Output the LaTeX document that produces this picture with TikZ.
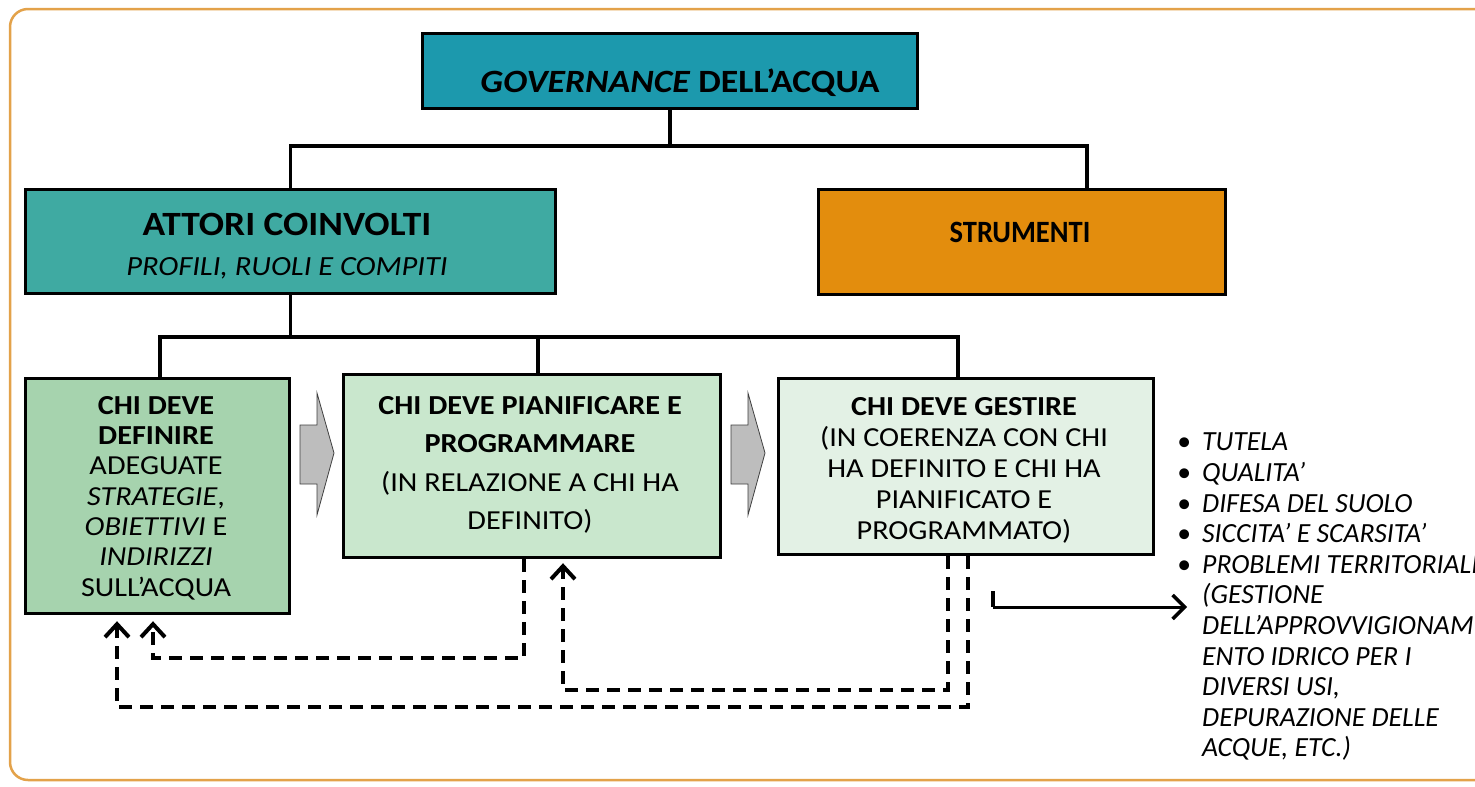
\documentclass[tikz,border=0pt]{standalone}
\usepackage{fontspec}
\setmainfont{Carlito}
% slightly widened and slightly narrowed cuts of the same family
\newfontfamily\widefont{Carlito}[FakeStretch=1.1]
\newfontfamily\narrowfont{Carlito}[FakeStretch=0.92]
\usetikzlibrary{arrows.meta,calc}
\definecolor{govfill}{HTML}{1C99AD}
\definecolor{attfill}{HTML}{3FAAA2}
\definecolor{strfill}{HTML}{E38D0D}
\definecolor{defill}{HTML}{A6D3AE}
\definecolor{plfill}{HTML}{C9E7CD}
\definecolor{gefill}{HTML}{E3F1E5}
\definecolor{stepgray}{HTML}{BDBDBD}
\definecolor{framecol}{HTML}{E3A24A}
\begin{document}
\begin{tikzpicture}[x=1pt,y=-1pt,
  box/.style={draw=black, line width=3.2pt, anchor=north west, inner sep=0pt},
  link/.style={line width=3.4pt},
  feedback/.style={line width=4pt, dash pattern=on 13pt off 8pt,
    -{Straight Barb[length=13pt,width=24pt,line width=4pt]}},
  label/.style={anchor=base, inner sep=0pt},
  boxtext/.style={anchor=north, inner sep=0pt, align=center},
  blockarrow/.style={fill=stepgray, draw=black!75, line width=0.8pt, line join=miter}]

\useasboundingbox (0,0) rectangle (1475,787);
\fill[white] (0,0) rectangle (1475,787);

% outer frame
\draw[framecol, line width=2.5pt, rounded corners=18pt] (10,9) rectangle (1540,780);

% boxes
\node[box, fill=govfill, minimum width=495pt, minimum height=75pt] (gov) at (421,32) {};
\node[box, fill=attfill, minimum width=530pt, minimum height=104pt] (att) at (24,188) {};
\node[box, fill=strfill, minimum width=407pt, minimum height=105pt] (str) at (817,188) {};
\node[box, fill=defill, minimum width=264pt, minimum height=235pt] (b1) at (24,377) {};
\node[box, fill=plfill, minimum width=377pt, minimum height=183pt] (b2) at (342,373) {};
\node[box, fill=gefill, minimum width=375pt, minimum height=176pt] (b3) at (777,377) {};

% box texts
\node[label, font=\widefont\fontsize{32.5}{40}\selectfont\bfseries] (govt) at (680,92)
  {\textit{GOVERNANCE} DELL’ACQUA};
\node[label, font=\widefont\fontsize{34}{40}\selectfont\bfseries] (attt) at (287,235) {ATTORI COINVOLTI};
\node[label, font=\widefont\fontsize{27.7}{32}\selectfont\itshape] (atts) at (287,275) {PROFILI, RUOLI E COMPITI};
\node[label, font=\narrowfont\fontsize{31}{38}\selectfont\bfseries] (strt) at (1020,242) {STRUMENTI};

\node[boxtext, font=\widefont\fontsize{27.5}{30.3}\selectfont] (b1t) at (156,396)
  {\textbf{CHI DEVE}\\\textbf{DEFINIRE}\\ADEGUATE\\\textit{STRATEGIE},\\\textit{OBIETTIVI} E\\\textit{INDIRIZZI}\\SULL’ACQUA};
\node[boxtext, font=\widefont\fontsize{27.5}{38.5}\selectfont] (b2t) at (530,396)
  {\textbf{CHI DEVE PIANIFICARE E}\\\textbf{PROGRAMMARE}\\(IN RELAZIONE A CHI HA\\DEFINITO)};
\node[boxtext, font=\widefont\fontsize{27.5}{31}\selectfont] (b3t) at (964,397)
  {\textbf{CHI DEVE GESTIRE}\\(IN COERENZA CON CHI\\HA DEFINITO E CHI HA\\PIANIFICATO E\\PROGRAMMATO)};

% list of themes
\newcommand{\itembullet}{\llap{\upshape\textbullet\hspace{11pt}}}
\node[anchor=north west, inner sep=0pt, align=left, font=\fontsize{27.7}{30.6}\selectfont\itshape] (themes) at (1202,433)
  {\itembullet TUTELA\\\itembullet QUALITA’\\\itembullet DIFESA DEL SUOLO\\\itembullet SICCITA’ E SCARSITA’\\\itembullet PROBLEMI TERRITORIALI\\(GESTIONE\\DELL’APPROVVIGIONAM\\ENTO IDRICO PER I\\DIVERSI USI,\\DEPURAZIONE DELLE\\ACQUE, ETC.)};

% tree connectors
\coordinate (bus1) at (0,146);
\coordinate (bus2) at (0,337);
\coordinate (strIn) at ([xshift=270pt]str.north west);
\coordinate (b1In) at ([xshift=136pt]b1.north west);
\coordinate (b2In) at ([xshift=196pt]b2.north west);
\coordinate (b3In) at ([xshift=181pt]b3.north west);
\draw[link] (gov.south) -- (gov.south |- bus1);
\draw[link] (att.north) |- (strIn |- bus1) -- (strIn);
\draw[link] (att.south) -- (att.south |- bus2);
\draw[link] (b1In) |- (b3In |- bus2) -- (b3In);
\draw[link] (b2In) -- (b2In |- bus2);

% block arrows between the steps
\draw[blockarrow] (300,425) -- (317,425) -- (317,393) -- (334,453) -- (317,515) -- (317,484) -- (300,484) -- cycle;
\draw[blockarrow] (731,425) -- (748,425) -- (748,393) -- (765,453) -- (748,515) -- (748,484) -- (731,484) -- cycle;

% feedback loops
\coordinate (lvlA) at (0,658);
\coordinate (lvlB) at (0,690);
\coordinate (lvlC) at (0,707);
\coordinate (fbA) at ([xshift=182pt]b2.south west);
\coordinate (fbB) at ([xshift=171pt]b3.south west);
\coordinate (fbC) at ([xshift=191pt]b3.south west);
\draw[feedback] (fbA) -- (fbA |- lvlA) -| ([xshift=129pt,yshift=-6pt]b1.south west);
\draw[feedback] (fbB) -- (fbB |- lvlB) -| ([xshift=221pt,yshift=-4pt]b2.south west);
\draw[feedback] (fbC) -- (fbC |- lvlC) -| ([xshift=93pt,yshift=-6pt]b1.south west);

% arrow towards the themes
\coordinate (tick) at (993,591);
\coordinate (tstart) at (993,607);
\coordinate (tend) at (1187,607);
\draw[line width=4pt] (tick) -- (tstart);
\draw[line width=3pt, -{Straight Barb[length=12pt,width=24pt,line width=3.4pt]}] (tstart) -- (tend);
\end{tikzpicture}
\end{document}
